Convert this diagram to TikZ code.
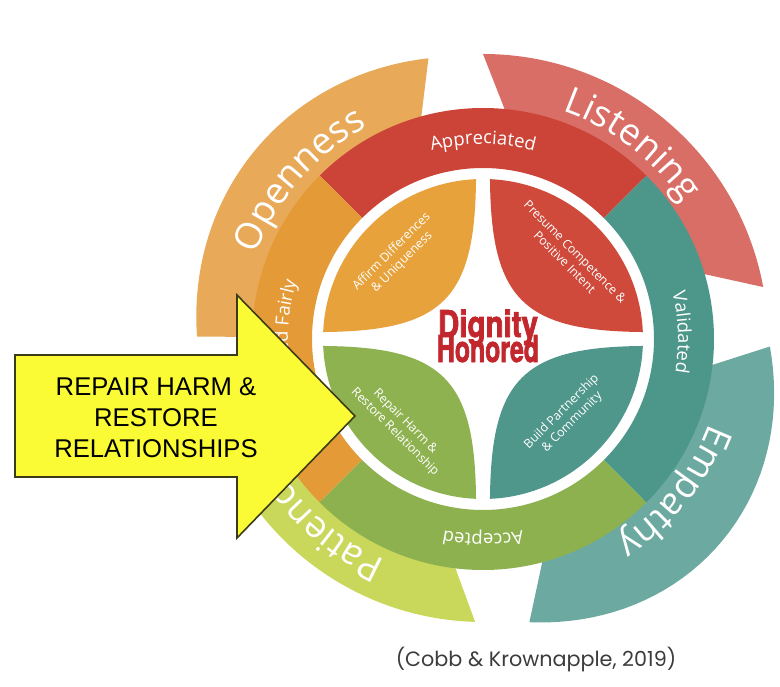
\documentclass[tikz,border=0pt]{standalone}
\usepackage{graphicx}
\usepackage{fontspec}
\setmainfont{Open Sans}
\newfontfamily\arrowfont{Liberation Sans}
\newfontfamily\dignityfont[FakeStretch=0.8, BoldFeatures={FakeBold=2}]{TeX Gyre Heros}
\newfontfamily\citefont{Poppins}
\usetikzlibrary{decorations.text}

\definecolor{opennessfill}{HTML}{E8A959}
\definecolor{listeningfill}{HTML}{D96E66}
\definecolor{empathyfill}{HTML}{6CA9A0}
\definecolor{patiencefill}{HTML}{C9D75B}
\definecolor{appreciatedred}{HTML}{CB4437}
\definecolor{validatedteal}{HTML}{4D978A}
\definecolor{acceptedgreen}{HTML}{8DB14F}
\definecolor{fairlyorange}{HTML}{E49A37}
\definecolor{affirmorange}{HTML}{E8A23C}
\definecolor{presumered}{HTML}{CF4A3B}
\definecolor{buildteal}{HTML}{4F978B}
\definecolor{repairgreen}{HTML}{8EB250}
\definecolor{dignityred}{HTML}{C1272D}
\definecolor{arrowyellow}{HTML}{FBFB35}
\definecolor{arrowline}{HTML}{3B3B18}
\definecolor{citegray}{HTML}{3C3C3C}

\begin{document}
\begin{tikzpicture}[x=0.02cm, y=0.02cm,
    bandlabel/.style={decorate, decoration={text along path, text align=center, text color=white, text={|\fontsize{21}{24}\selectfont|#1}}},
    ringlabel/.style={decorate, decoration={text along path, text align=center, text color=white, text={|\fontsize{10.5}{12}\selectfont|#1}}},
    petaltext/.style={text=white, font=\fontsize{7}{8.4}\selectfont, align=center, inner sep=0pt},
    dignitytext/.style={font=\dignityfont\bfseries\fontsize{21}{24}\selectfont, text=dignityred, anchor=base, inner sep=0pt},
    arrowshape/.style={fill=arrowyellow, draw=arrowline, line width=0.9pt, line join=miter}]
    \useasboundingbox (-483,-347) rectangle (297,339);

    % outer swooshes
    \fill[opennessfill] plot[domain=101:179.5, samples=40, variable=\t] (\t:{286+10*sin(180*(\t-101)/78.5)}) -- (179.5:226) arc[start angle=179.5, end angle=106, radius=226] -- cycle;
    \fill[listeningfill] (90:285) arc[start angle=90, end angle=10.5, radius=285] -- (17:226) arc[start angle=17, end angle=84, radius=226] -- cycle;
    \fill[empathyfill] plot[domain=-80.7:-1.5, samples=40, variable=\t] (\t:{287+26*sin(180*(\t+80.7)/79.2)}) -- (-7:226) arc[start angle=-7, end angle=-74.5, radius=226] -- cycle;
    \fill[patiencefill] (-145:283) arc[start angle=-145, end angle=-91.6, radius=283] -- (-97.5:226) arc[start angle=-97.5, end angle=-145, radius=226] -- cycle;

    % middle ring
    \fill[appreciatedred] (45:231) arc[start angle=45, end angle=135, radius=231] -- (135:171) arc[start angle=135, end angle=45, radius=171] -- cycle;
    \fill[fairlyorange] (135:231) arc[start angle=135, end angle=225, radius=231] -- (225:171) arc[start angle=225, end angle=135, radius=171] -- cycle;
    \fill[acceptedgreen] (225:231) arc[start angle=225, end angle=315, radius=231] -- (315:171) arc[start angle=315, end angle=225, radius=171] -- cycle;
    \fill[validatedteal] (-45:231) arc[start angle=-45, end angle=45, radius=231] -- (45:171) arc[start angle=45, end angle=-45, radius=171] -- cycle;

    % petals
    \fill[presumered] (2.5:160) arc[start angle=2.5, end angle=87.5, radius=160] .. controls (8,40) and (40,8) .. cycle;
    \fill[affirmorange, rotate=90] (2.5:160) arc[start angle=2.5, end angle=87.5, radius=160] .. controls (8,40) and (40,8) .. cycle;
    \fill[repairgreen, rotate=180] (2.5:160) arc[start angle=2.5, end angle=87.5, radius=160] .. controls (8,40) and (40,8) .. cycle;
    \fill[buildteal, rotate=270] (2.5:160) arc[start angle=2.5, end angle=87.5, radius=160] .. controls (8,40) and (40,8) .. cycle;

    % labels on the bands
    \path[bandlabel=Openness] (179:242) arc[start angle=179, end angle=99, radius=242];
    \path[bandlabel=Listening] (92:242) arc[start angle=92, end angle=13, radius=242];
    \path[bandlabel=Empathy] (0:242) arc[start angle=0, end angle=-77, radius=242];
    \path[bandlabel=Patience] (-92:242) arc[start angle=-92, end angle=-170, radius=242];
    \path[ringlabel=Appreciated] (135:195) arc[start angle=135, end angle=45, radius=195];
    \path[ringlabel=Validated] (47:195) arc[start angle=47, end angle=-43, radius=195];
    \path[ringlabel=Accepted] (-45:195) arc[start angle=-45, end angle=-135, radius=195];
    \path[ringlabel=Treated Fairly] (225:195) arc[start angle=225, end angle=135, radius=195];

    \node[petaltext, rotate=45] (affirm) at (-86,82) {Affirm Differences\\\& Uniqueness};
    \node[petaltext, rotate=-45] (presume) at (87,82) {Presume Competence \&\\Positive Intent};
    \node[petaltext, rotate=-45] (repair) at (-83,-88) {Repair Harm \&\\Restore Relationship};
    \node[petaltext, rotate=45] (build) at (84,-78) {Build Partnership\\\& Community};

    \node[dignitytext] (dignity) at (5,2) {Dignity};
    \node[dignitytext] (honored) at (5,-23) {\scalebox{0.84}[1]{Honored}};

    % arrow
    \draw[arrowshape] (-468,-16) -- (-246,-16) -- (-246,44) -- (-128,-77) -- (-246,-199) -- (-246,-138) -- (-468,-138) -- cycle;
    \node[font=\arrowfont\fontsize{14.6}{17.6}\selectfont, align=center] (repairarrow) at (-327,-79) {REPAIR HARM \&\\RESTORE\\RELATIONSHIPS};

    \node[font=\citefont\fontsize{11.8}{14}\selectfont, text=citegray] (cite) at (53,-321) {(Cobb \& Krownapple, 2019)};
\end{tikzpicture}
\end{document}
